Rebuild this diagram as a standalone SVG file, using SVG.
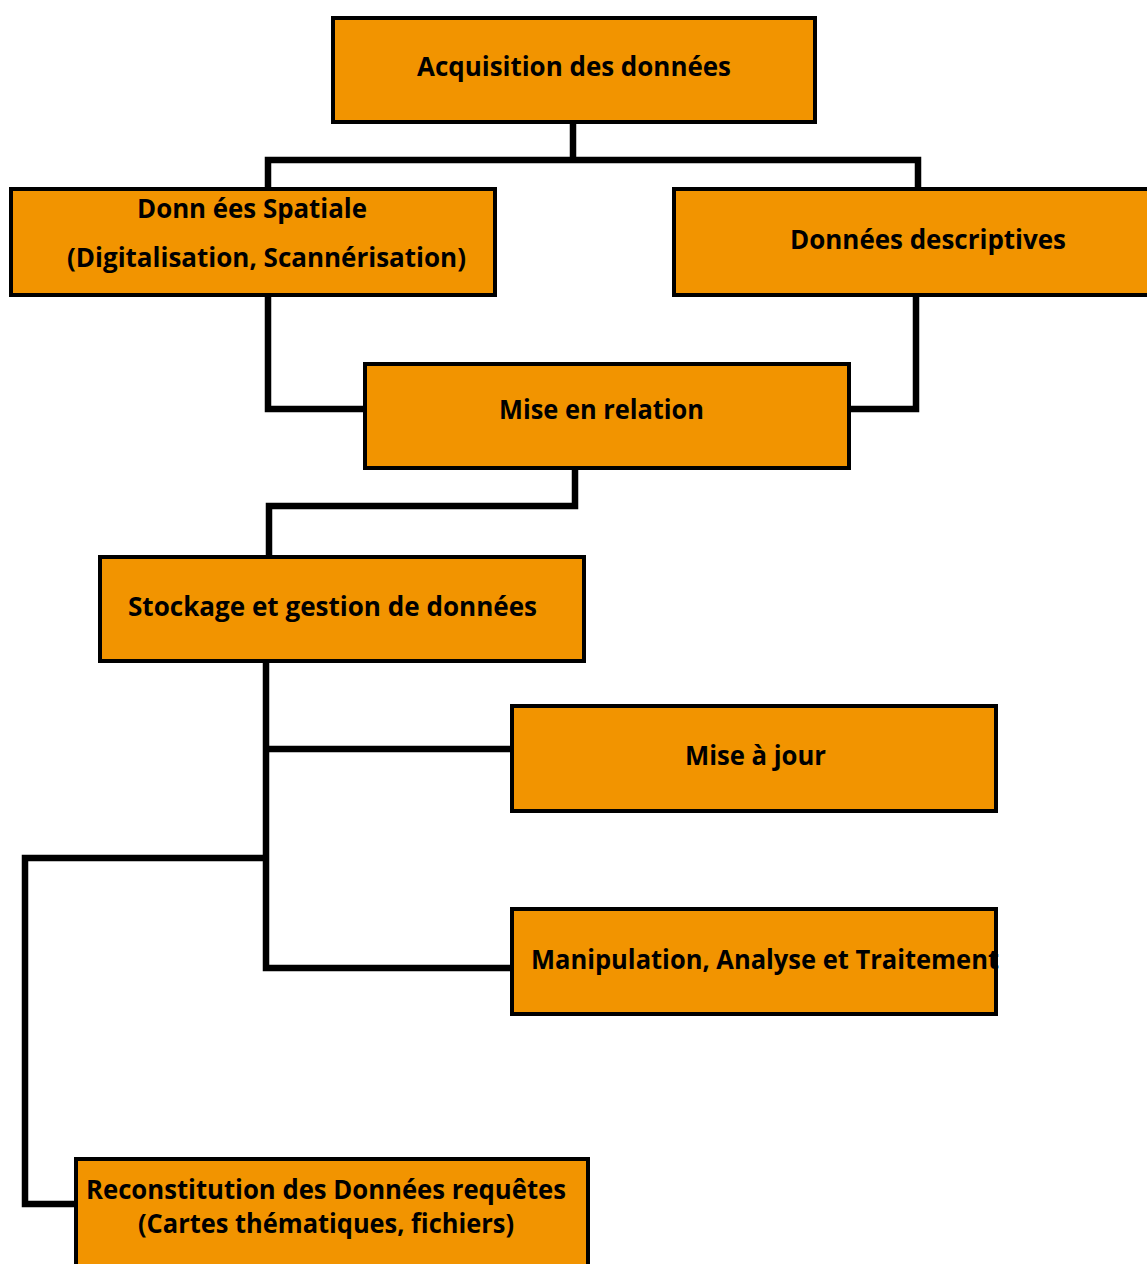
<svg xmlns="http://www.w3.org/2000/svg" width="1147" height="1264" viewBox="0 0 1147 1264">
<style>
.box{fill:#F29400;stroke:#000;stroke-width:4}
.lbl{font-family:"Open Sans","DejaVu Sans",sans-serif;font-weight:bold;font-size:26px;fill:#000}
.con{fill:none;stroke:#000;stroke-width:6.5;stroke-linejoin:miter}
</style>
<rect width="1147" height="1264" fill="#fff"/>
<g id="connectors">
<path class="con" d="M573,122 V160"/>
<path class="con" d="M268,189 V160 H918 V189"/>
<path class="con" d="M268,295 V409 H365"/>
<path class="con" d="M916,295 V409 H849"/>
<path class="con" d="M575,468 V506 H269 V557"/>
<path class="con" d="M266,661 V968 H512"/>
<path class="con" d="M266,749 H512"/>
<path class="con" d="M266,858 H25 V1204 H76"/>
</g>
<g id="n1"><rect class="box" x="333" y="18" width="482" height="104"/><text class="lbl" x="417" y="76" textLength="314" lengthAdjust="spacingAndGlyphs">Acquisition des données</text></g>
<g id="n2"><rect class="box" x="11" y="189" width="484" height="106"/><text class="lbl" x="137" y="218" textLength="230" lengthAdjust="spacingAndGlyphs">Donn ées Spatiale</text><text class="lbl" x="67" y="267" textLength="399" lengthAdjust="spacingAndGlyphs">(Digitalisation, Scannérisation)</text></g>
<g id="n3"><rect class="box" x="674" y="189" width="490" height="106"/><text class="lbl" x="790" y="249" textLength="276" lengthAdjust="spacingAndGlyphs">Données descriptives</text></g>
<g id="n4"><rect class="box" x="365" y="364" width="484" height="104"/><text class="lbl" x="499" y="419" textLength="205" lengthAdjust="spacingAndGlyphs">Mise en relation</text></g>
<g id="n5"><rect class="box" x="100" y="557" width="484" height="104"/><text class="lbl" x="128" y="616" textLength="409" lengthAdjust="spacingAndGlyphs">Stockage et gestion de données</text></g>
<g id="n6"><rect class="box" x="512" y="706" width="484" height="105"/><text class="lbl" x="685" y="765" textLength="141" lengthAdjust="spacingAndGlyphs">Mise à jour</text></g>
<g id="n7"><rect class="box" x="512" y="909" width="484" height="105"/><text class="lbl" x="531" y="969" textLength="468" lengthAdjust="spacingAndGlyphs">Manipulation, Analyse et Traitement</text></g>
<g id="n8"><rect class="box" x="76" y="1159" width="512" height="130"/><text class="lbl" x="86" y="1199" textLength="480" lengthAdjust="spacingAndGlyphs">Reconstitution des Données requêtes</text><text class="lbl" x="138" y="1233" textLength="376" lengthAdjust="spacingAndGlyphs">(Cartes thématiques, fichiers)</text></g>
</svg>
